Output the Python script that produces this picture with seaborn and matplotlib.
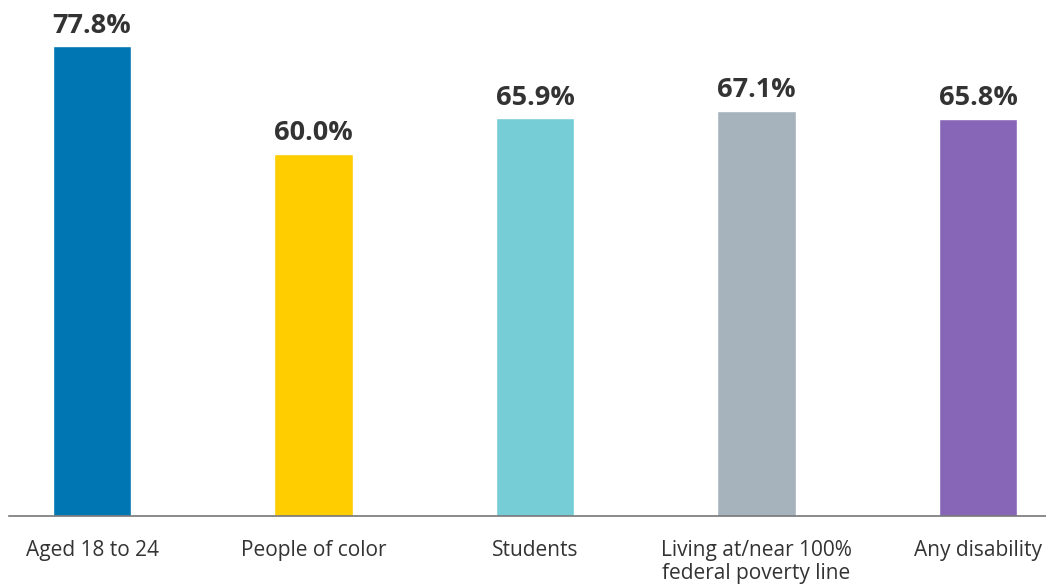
import matplotlib
matplotlib.use('Agg')
import matplotlib.pyplot as plt
import seaborn as sns
import pandas as pd

# chart data
groups = ['Aged 18 to 24', 'People of color', 'Students',
          'Living at/near 100%\nfederal poverty line', 'Any disability']
shares = [77.8, 60.0, 65.9, 67.1, 65.8]
bar_colors = ['#0076B3', '#FFCD00', '#76CDD6', '#A7B3BC', '#8766B8']

sns.set_theme(style='white')
plt.rcParams['font.family'] = ['Open Sans', 'DejaVu Sans']

df = pd.DataFrame({'group': groups, 'share': shares})

fig = plt.figure(figsize=(10.46, 5.84), dpi=100)
ax = fig.add_axes([9 / 1046, 1 - 516 / 584, 1 - 9 / 1046, 516 / 584])

sns.barplot(data=df, x='group', y='share', hue='group', palette=bar_colors,
            legend=False, width=0.355, saturation=1, ax=ax)

for i, v in enumerate(shares):
    ax.text(i, v + 1.2, f'{v:.1f}%', ha='center', va='bottom',
            fontsize=19.5, fontweight='bold', color='#333333')

ax.set_xlim(-0.375, 4.307)
ax.set_ylim(0, 516 / 6.041)
ax.set_xlabel('')
ax.set_ylabel('')
ax.set_yticks([])
for s in ['top', 'right', 'left']:
    ax.spines[s].set_visible(False)
ax.spines['bottom'].set_color('#777777')
ax.spines['bottom'].set_linewidth(1.2)
ax.tick_params(axis='x', length=0, pad=17, labelsize=15, labelcolor='#333333')
for lab in ax.get_xticklabels():
    lab.set_linespacing(1.12)
    lab.set_verticalalignment('top')

fig.savefig('out.png', dpi=100)
